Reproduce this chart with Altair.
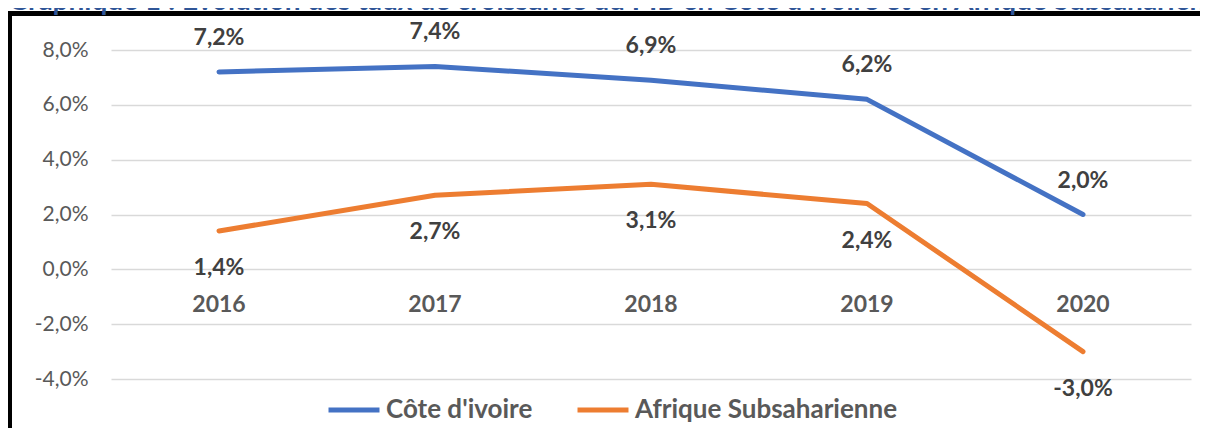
import altair as alt
import pandas as pd

years = ["2016", "2017", "2018", "2019", "2020"]
civ = [7.2, 7.4, 6.9, 6.2, 2.0]
ssa = [1.4, 2.7, 3.1, 2.4, -3.0]
series = ["Côte d'ivoire", "Afrique Subsaharienne"]
colors = ["#4472C4", "#ED7D31"]
y_ticks = [-4, -2, 0, 2, 4, 6, 8]
title_text = "Graphique 1 : Évolution des taux de croissance du PIB en Côte d'Ivoire et en Afrique Subsaharienne"

rows = []
for i, yr in enumerate(years):
    rows.append({"year": yr, "series": series[0], "value": civ[i]})
    rows.append({"year": yr, "series": series[1], "value": ssa[i]})
df = pd.DataFrame(rows)
yr_df = pd.DataFrame({"year": years, "zero": [0] * len(years)})

FONT = "Lato"
W, H = 1080, 329

x = alt.X("year:N", scale=alt.Scale(type="point", padding=0.5), axis=None)
yscale = alt.Scale(domain=[-4, 8], nice=False, zero=False)
pct_expr = "replace(replace(format(datum.value, '.1f'), '.', ','), '\u2212', '-') + '%'"

color = alt.Color(
    "series:N",
    scale=alt.Scale(domain=series, range=colors),
    sort=series,
    legend=alt.Legend(
        title=None,
        orient="none",
        legendX=215,
        legendY=332,
        direction="horizontal",
        symbolType="stroke",
        symbolSize=2600,
        symbolStrokeWidth=5,
        labelFont=FONT,
        labelFontSize=26,
        labelFontWeight="bold",
        labelColor="#595959",
        labelOffset=4,
        columnPadding=34,
        labelLimit=500,
    ),
)

base = alt.Chart(df)

lines = base.mark_line(strokeWidth=5, strokeCap="round", strokeJoin="round").encode(
    x=x,
    y=alt.Y(
        "value:Q",
        scale=yscale,
        axis=alt.Axis(
            values=y_ticks,
            labelExpr=pct_expr,
            grid=True,
            domain=False,
            ticks=False,
            labelPadding=23,
            labelFont=FONT,
            labelFontSize=21,
            labelColor="#595959",
            gridColor="#D9D9D9",
            gridWidth=1.5,
            title=None,
        ),
    ),
    color=color,
)

labels_civ = base.transform_filter(alt.datum.series == series[0]).transform_calculate(
    lab=pct_expr
).mark_text(font=FONT, fontSize=23, fontWeight="bold", color="#404040", dy=-34, baseline="middle").encode(
    x=x, y=alt.Y("value:Q", scale=yscale), text="lab:N"
)

labels_ssa = base.transform_filter(alt.datum.series == series[1]).transform_calculate(
    lab=pct_expr
).mark_text(font=FONT, fontSize=23, fontWeight="bold", color="#404040", dy=37, baseline="middle").encode(
    x=x, y=alt.Y("value:Q", scale=yscale), text="lab:N"
)

year_labels = alt.Chart(yr_df).mark_text(
    font=FONT, fontSize=23, fontWeight="bold", color="#595959", dy=36, baseline="middle"
).encode(x=x, y=alt.Y("zero:Q", scale=yscale), text="year:N")

one = pd.DataFrame({"k": [0]})
frame_top = alt.Chart(one).mark_rule(stroke="black", strokeWidth=5).encode(
    x=alt.value(-104), x2=alt.value(1200), y=alt.value(-36.5)
)
frame_left = alt.Chart(one).mark_rule(stroke="black", strokeWidth=5).encode(
    x=alt.value(-101.5), y=alt.value(-39), y2=alt.value(600)
)

title = alt.Chart(pd.DataFrame({"t": [title_text]})).mark_text(
    font=FONT, fontSize=28, fontWeight="bold", color="#2F5597", align="left", baseline="alphabetic"
).encode(x=alt.value(-103), y=alt.value(-40), text="t:N")

chart = (
    alt.layer(frame_top, frame_left, title, lines, labels_civ, labels_ssa, year_labels)
    .properties(
        width=W,
        height=H,
        autosize=alt.AutoSizeParams(type="none"),
        padding={"left": 103, "top": 42, "right": 9, "bottom": 49},
    )
    .configure_view(stroke=None)
)

chart.save("out.html", embed_options={"renderer": "svg", "actions": False})
